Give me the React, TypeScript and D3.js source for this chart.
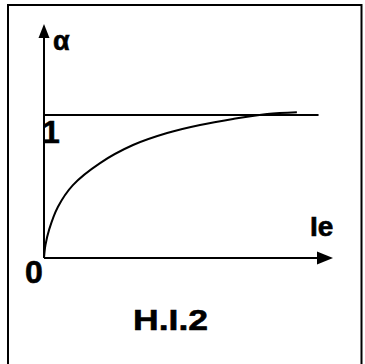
import React from "react";
import * as d3 from "d3";

// Curve α(Ie)
const ieValues = [0, 0.05, 0.18, 0.48, 1.0, 1.94, 3.08, 4.26, 5.4, 6.54, 7.72, 8.75];
const alphaValues = [0, 0.09, 0.2, 0.357, 0.51, 0.664, 0.79, 0.874, 0.93, 0.972, 1.007, 1.02];
// Reference level α = 1
const refLevel = [1];
const refLineEnd = [9.5];
const tickLabels = ["0", "1"];
const axisLabels = ["α", "Ie"];
const caption = ["H.I.2"];

const W = 365;
const H = 364;
const FONT = "'Liberation Sans', Arial, Helvetica, sans-serif";

export default function App() {
  const x = d3.scaleLinear().domain([0, 10]).range([44, 333]);
  const y = d3.scaleLinear().domain([0, 1]).range([258, 115]);
  const yTop = 24;

  const pts = ieValues.map((v, i) => [v, alphaValues[i]] as [number, number]);
  const line = d3
    .line<[number, number]>()
    .x((d) => x(d[0]))
    .y((d) => y(d[1]))
    .curve(d3.curveCatmullRom.alpha(0.5));

  const x0 = x(0);
  const y0 = y(0);
  const xEnd = x(10);
  const textProps = {
    fontFamily: FONT,
    fontWeight: "bold" as const,
    fill: "#000",
    stroke: "#000",
    strokeWidth: 0.6,
  };

  return (
    <svg
      width={W}
      height={H}
      style={{ position: "absolute", left: 0, top: 0, background: "#fff" }}
    >
      <rect x={0} y={0} width={W} height={H} fill="#fff" />
      {/* frame */}
      <rect x={8} y={5} width={353.5} height={370} fill="none" stroke="#000" strokeWidth={2} />

      {/* y axis */}
      <line x1={x0} y1={y0} x2={x0} y2={yTop + 12} stroke="#000" strokeWidth={2} />
      <path d={`M${x0},${yTop} L${x0 - 5.5},${yTop + 14} L${x0 + 5.5},${yTop + 14} Z`} fill="#000" />

      {/* x axis */}
      <line x1={x0} y1={y0} x2={xEnd - 12} y2={y0} stroke="#000" strokeWidth={2} />
      <path d={`M${xEnd},${y0} L${xEnd - 16},${y0 - 6.5} L${xEnd - 16},${y0 + 6.5} Z`} fill="#000" />

      {/* level 1 */}
      {refLevel.map((r, i) => (
        <line key={i} x1={x0} y1={y(r)} x2={x(refLineEnd[i])} y2={y(r)} stroke="#000" strokeWidth={2} />
      ))}

      {/* curve */}
      <path d={line(pts) || ""} fill="none" stroke="#000" strokeWidth={2} />

      {/* labels */}
      <text x={53} y={50} fontSize={27} {...textProps}>
        {axisLabels[0]}
      </text>
      <text x={310} y={236} fontSize={28} {...textProps}>
        {axisLabels[1]}
      </text>
      <text x={42} y={143} fontSize={32} {...textProps}>
        {tickLabels[1]}
      </text>
      <text x={25} y={283} fontSize={32} {...textProps}>
        {tickLabels[0]}
      </text>
      <text
        x={133}
        y={330}
        fontSize={30}
        textLength={75}
        lengthAdjust="spacingAndGlyphs"
        {...textProps}
      >
        {caption[0]}
      </text>
    </svg>
  );
}
